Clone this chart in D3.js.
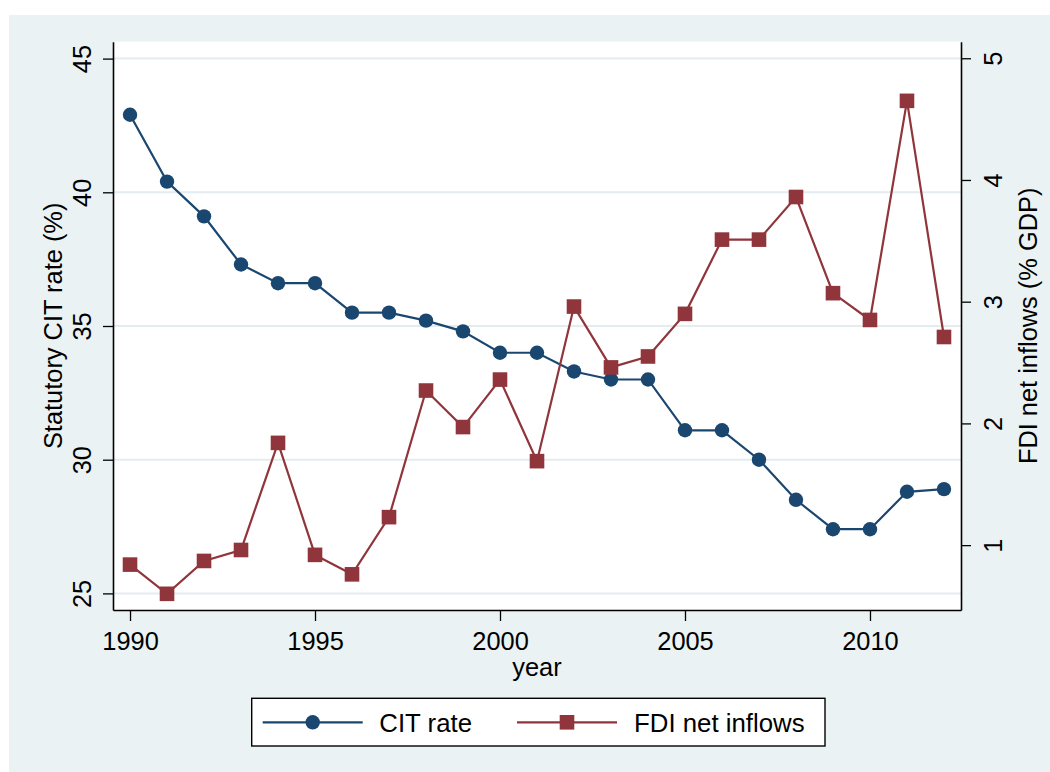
<!DOCTYPE html>
<html>
<head>
<meta charset="utf-8">
<script src="https://cdn.jsdelivr.net/npm/d3@7"></script>
<style>
  body { margin: 0; background: #fff; }
  text { font-family: "Liberation Sans", Arial, Helvetica, sans-serif; fill: #000; }
</style>
</head>
<body>
<div id="chart"></div>
<script>
// values
var years = [1990, 1991, 1992, 1993, 1994, 1995, 1996, 1997, 1998, 1999, 2000, 2001,
             2002, 2003, 2004, 2005, 2006, 2007, 2008, 2009, 2010, 2011, 2012];
var citRate = [42.9, 40.4, 39.1, 37.3, 36.6, 36.6, 35.5, 35.5, 35.2, 34.8, 34.0, 34.0,
               33.3, 33.0, 33.0, 31.1, 31.1, 30.0, 28.5, 27.4, 27.4, 28.8, 28.9];
var fdiInflows = [0.84, 0.60, 0.87, 0.96, 1.84, 0.92, 0.76, 1.23, 2.27, 1.97, 2.36, 1.69,
                  2.96, 2.46, 2.55, 2.90, 3.51, 3.51, 3.86, 3.07, 2.85, 4.65, 2.71];

var xTicks = [1990, 1995, 2000, 2005, 2010];
var leftTicks = [25, 30, 35, 40, 45];
var rightTicks = [1, 2, 3, 4, 5];
var seriesNames = ["CIT rate", "FDI net inflows"];

var width = 1050, height = 772;
// plot region edges (window.top is reserved, so prefixed names)
var plotLeft = 113, plotRight = 961, plotTop = 41.7, plotBottom = 610;
var navy = "#1a476f", maroon = "#90353b";

var svg = d3.select("#chart").append("svg")
    .attr("width", width)
    .attr("height", height);

// outer graph region
svg.append("rect")
    .attr("x", 9).attr("y", 15)
    .attr("width", width - 9).attr("height", height - 15)
    .attr("fill", "#eaf2f3");

// plot region
svg.append("rect")
    .attr("x", plotLeft).attr("y", plotTop)
    .attr("width", plotRight - plotLeft).attr("height", plotBottom - plotTop)
    .attr("fill", "#fff");

var x = d3.scaleLinear().domain([1989.54, 2012.46]).range([plotLeft, plotRight]);
var yL = d3.scaleLinear().domain([24.379, 45.632]).range([plotBottom, plotTop]);
var yR = d3.scaleLinear().domain([0.467, 5.136]).range([plotBottom, plotTop]);

// gridlines from the left axis
svg.selectAll("line.grid").data(leftTicks)
    .enter().append("line")
    .attr("class", "grid")
    .attr("x1", plotLeft).attr("x2", plotRight)
    .attr("y1", function(d) { return yL(d); })
    .attr("y2", function(d) { return yL(d); })
    .attr("stroke", "#e3ecef")
    .attr("stroke-width", 2);

// axes
function styleAxis(g) {
    g.selectAll("path.domain").attr("stroke", "#000").attr("stroke-width", 1.6);
    g.selectAll(".tick line").attr("stroke", "#000").attr("stroke-width", 1.3);
    g.selectAll("text").attr("font-size", 25.4).attr("fill", "#000")
        .attr("font-family", "'Liberation Sans', Arial, sans-serif");
}

var xAxis = svg.append("g")
    .attr("transform", "translate(0," + plotBottom + ")")
    .call(d3.axisBottom(x).tickValues(xTicks).tickFormat(d3.format("d")).tickSize(11).tickSizeOuter(0))
    .call(styleAxis);
xAxis.selectAll("text").attr("y", 0).attr("dy", 0)
    .attr("transform", "translate(0,40)");

var yAxisL = svg.append("g")
    .attr("transform", "translate(" + plotLeft + ",0)")
    .call(d3.axisLeft(yL).tickValues(leftTicks).tickFormat(d3.format("d")).tickSize(10).tickSizeOuter(0))
    .call(styleAxis);
yAxisL.selectAll("text").attr("x", 0).attr("dy", 0)
    .attr("text-anchor", "middle")
    .attr("transform", "translate(-22.3,0) rotate(-90)");

var yAxisR = svg.append("g")
    .attr("transform", "translate(" + plotRight + ",0)")
    .call(d3.axisRight(yR).tickValues(rightTicks).tickFormat(d3.format("d")).tickSize(10).tickSizeOuter(0))
    .call(styleAxis);
yAxisR.selectAll("text").attr("x", 0).attr("dy", 0)
    .attr("text-anchor", "middle")
    .attr("transform", "translate(40.7,0) rotate(-90)");

// axis titles
svg.append("text")
    .attr("transform", "translate(62," + ((plotTop + plotBottom) / 2) + ") rotate(-90)")
    .attr("text-anchor", "middle")
    .attr("font-size", 25.4)
    .text("Statutory CIT rate (%)");

svg.append("text")
    .attr("transform", "translate(1037," + ((plotTop + plotBottom) / 2) + ") rotate(-90)")
    .attr("text-anchor", "middle")
    .attr("font-size", 25.4)
    .text("FDI net inflows (% GDP)");

svg.append("text")
    .attr("x", (plotLeft + plotRight) / 2).attr("y", 676)
    .attr("text-anchor", "middle")
    .attr("font-size", 25.4)
    .text("year");

// series
var citLine = d3.line()
    .x(function(d, i) { return x(years[i]); })
    .y(function(d) { return yL(d); });
var fdiLine = d3.line()
    .x(function(d, i) { return x(years[i]); })
    .y(function(d) { return yR(d); });

svg.append("path").datum(citRate)
    .attr("d", citLine)
    .attr("fill", "none").attr("stroke", navy).attr("stroke-width", 2.2);
svg.selectAll("circle.cit").data(citRate)
    .enter().append("circle")
    .attr("class", "cit")
    .attr("cx", function(d, i) { return x(years[i]); })
    .attr("cy", function(d) { return yL(d); })
    .attr("r", 7.2)
    .attr("fill", navy);

svg.append("path").datum(fdiInflows)
    .attr("d", fdiLine)
    .attr("fill", "none").attr("stroke", maroon).attr("stroke-width", 2.2);
var sq = 14.6;
svg.selectAll("rect.fdi").data(fdiInflows)
    .enter().append("rect")
    .attr("class", "fdi")
    .attr("x", function(d, i) { return x(years[i]) - sq / 2; })
    .attr("y", function(d) { return yR(d) - sq / 2; })
    .attr("width", sq).attr("height", sq)
    .attr("fill", maroon);

// legend
var legend = svg.append("g");
legend.append("rect")
    .attr("x", 251.7).attr("y", 698.3)
    .attr("width", 573.3).attr("height", 47.7)
    .attr("fill", "#fff").attr("stroke", "#000").attr("stroke-width", 1.4);

var legY = 722.3;
var keys = [
    { name: seriesNames[0], color: navy, x0: 262.7, tx: 379.3, shape: "circle" },
    { name: seriesNames[1], color: maroon, x0: 517, tx: 634, shape: "square" }
];
keys.forEach(function(k) {
    legend.append("line")
        .attr("x1", k.x0).attr("x2", k.x0 + 100)
        .attr("y1", legY).attr("y2", legY)
        .attr("stroke", k.color).attr("stroke-width", 2.2);
    if (k.shape === "circle") {
        legend.append("circle")
            .attr("cx", k.x0 + 50).attr("cy", legY).attr("r", 7.2)
            .attr("fill", k.color);
    } else {
        legend.append("rect")
            .attr("x", k.x0 + 50 - sq / 2).attr("y", legY - sq / 2)
            .attr("width", sq).attr("height", sq)
            .attr("fill", k.color);
    }
    legend.append("text")
        .attr("x", k.tx).attr("y", 731.5)
        .attr("font-size", 25.8)
        .text(k.name);
});
</script>
</body>
</html>
